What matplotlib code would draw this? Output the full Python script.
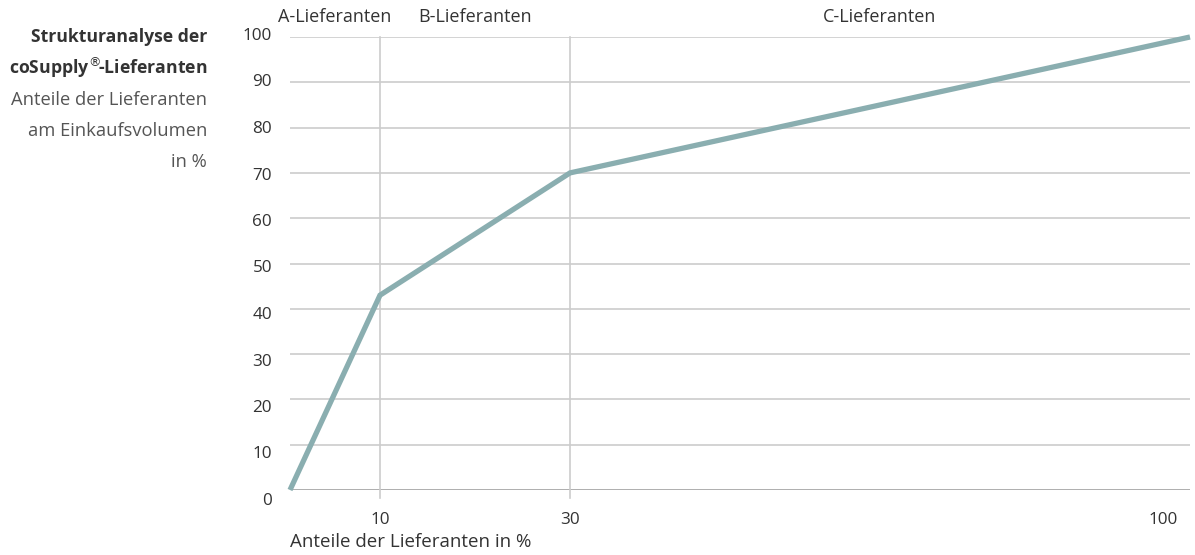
import numpy as np
import matplotlib
matplotlib.use("Agg")
import matplotlib.pyplot as plt
from matplotlib import transforms

# data
lief_anteil = [0, 10, 30, 100]          # Anteile der Lieferanten in %
einkauf_anteil = [0, 43, 70, 100]       # Anteile am Einkaufsvolumen in %
klassen = ["A-Lieferanten", "B-Lieferanten", "C-Lieferanten"]
klassen_grenzen = [0, 10, 30, 100]
y_ticks = list(range(0, 101, 10))
x_ticks = [10, 30, 100]

# the x axis in the original is not linear: piecewise scale
pos = [0, 90, 280, 900]

def fwd(x):
    return np.interp(x, klassen_grenzen, pos)

def inv(x):
    return np.interp(x, pos, klassen_grenzen)

plt.rcParams["font.family"] = ["Open Sans", "DejaVu Sans"]

fig = plt.figure(figsize=(11.95, 5.55), dpi=100)
ax = fig.add_axes([290 / 1195, (555 - 490) / 555, 900 / 1195, 453 / 555])
ax.set_xscale("function", functions=(fwd, inv))
ax.set_xlim(0, 100)
ax.set_ylim(0, 100)

grid_col = "#cccccc"
for y in y_ticks[1:]:
    ax.axhline(y, color=grid_col, lw=1.2, zorder=1)
ax.axhline(0, color="#a8a8a8", lw=1.3, zorder=1)
for x in klassen_grenzen[1:3]:
    ax.plot([x, x], [-1.7, 100], color=grid_col, lw=1.2, zorder=1, clip_on=False)

ax.plot(lief_anteil, einkauf_anteil, color="#8aaeb0", lw=3.8,
        solid_capstyle="butt", solid_joinstyle="miter", zorder=3, clip_on=False)

for s in ax.spines.values():
    s.set_visible(False)

txt_col = "#333333"
ax.set_yticks(y_ticks)
ax.set_yticklabels([str(v) for v in y_ticks])
ax.set_xticks(x_ticks)
ax.set_xticklabels([str(v) for v in x_ticks])
ax.tick_params(axis="both", length=0, labelsize=12.3, labelcolor=txt_col)
ax.tick_params(axis="y", pad=13)
ax.tick_params(axis="x", pad=16)
# labels drift slightly below their gridlines towards the bottom, as in the original
for v, lab in zip(y_ticks, ax.get_yticklabels()):
    lab.set_verticalalignment("center")
    dy = (-1 + 0.12 * (100 - v)) / 100
    lab.set_transform(lab.get_transform() + transforms.ScaledTranslation(0.0, -dy, fig.dpi_scale_trans))
last = ax.get_xticklabels()[-1]
last.set_transform(last.get_transform() + transforms.ScaledTranslation(-0.27, 0, fig.dpi_scale_trans))

ax.text(0, -0.095, "Anteile der Lieferanten in %", transform=ax.transAxes,
        fontsize=13.5, color=txt_col, ha="left", va="top")

# Klassen oben, jeweils mittig über dem Abschnitt
for i, name in enumerate(klassen):
    mid = inv((fwd(klassen_grenzen[i]) + fwd(klassen_grenzen[i + 1])) / 2)
    ax.text(mid, 1.045, name, transform=ax.get_xaxis_transform(),
            fontsize=13, color=txt_col, ha="center", va="center")

# Titelblock links
tx = 207 / 1195
fig.text(tx, 1 - 37 / 555, "Strukturanalyse der", fontsize=12.7, fontweight="bold",
         color=txt_col, ha="right", va="center")
fig.text(tx, 1 - 68 / 555, "coSupply$^{\u00ae}\\!$-Lieferanten", fontsize=12.7, fontweight="bold",
         color=txt_col, ha="right", va="center")
fig.text(tx, 1 - 100 / 555, "Anteile der Lieferanten", fontsize=13.2,
         color="#555555", ha="right", va="center")
fig.text(tx, 1 - 131 / 555, "am Einkaufsvolumen", fontsize=13.2,
         color="#555555", ha="right", va="center")
fig.text(tx, 1 - 162 / 555, "in %", fontsize=13.2,
         color="#555555", ha="right", va="center")

plt.savefig("out.png", dpi=100)
